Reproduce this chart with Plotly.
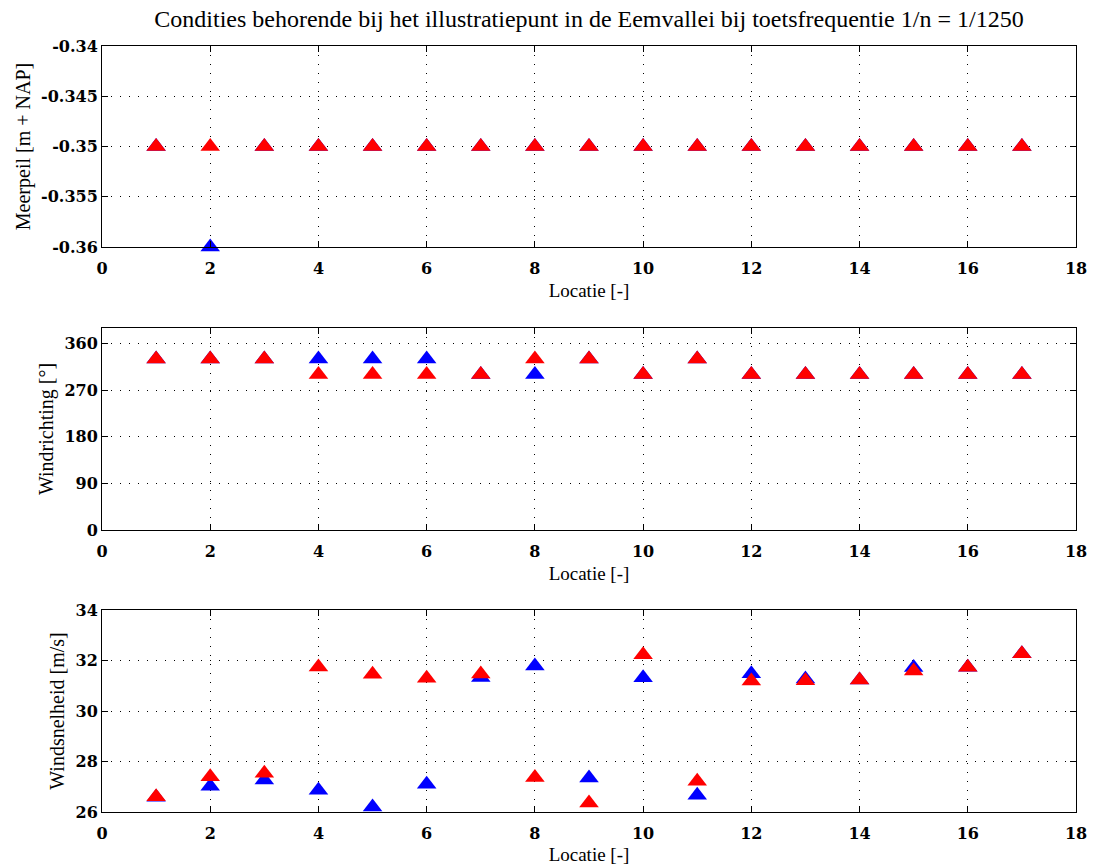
import plotly.graph_objects as go

# ---- data ----
locaties = list(range(1, 18))

meerpeil_blauw = [-0.35, -0.36, -0.35, -0.35, -0.35, -0.35, -0.35, -0.35, -0.35,
                  -0.35, -0.35, -0.35, -0.35, -0.35, -0.35, -0.35, -0.35]
meerpeil_rood = [-0.35] * 17

windrichting_blauw = [330, 330, 330, 330, 330, 330, 300, 300, 330,
                      300, 330, 300, 300, 300, 300, 300, 300]
windrichting_rood = [330, 330, 330, 300, 300, 300, 300, 330, 330,
                     300, 330, 300, 300, 300, 300, 300, 300]

windsnelheid_blauw = [26.58, 27.02, 27.27, 26.86, 26.20, 27.10, 31.33, 31.78, 27.35,
                      31.32, 26.66, 31.48, 31.27, 31.23, 31.72, 31.73, 32.27]
windsnelheid_rood = [26.60, 27.40, 27.53, 31.74, 31.46, 31.30, 31.47, 27.37, 26.36,
                     32.23, 27.22, 31.19, 31.20, 31.23, 31.58, 31.73, 32.27]

x_ticks = [0, 2, 4, 6, 8, 10, 12, 14, 16, 18]
x_ticktext = ["0", "2", "4", "6", "8", "10", "12", "14", "16", "18"]

y1_ticks = [-0.36, -0.355, -0.35, -0.345, -0.34]
y1_ticktext = ["-0.36", "-0.355", "-0.35", "-0.345", "-0.34"]
y2_ticks = [0, 90, 180, 270, 360]
y2_ticktext = ["0", "90", "180", "270", "360"]
y3_ticks = [26, 28, 30, 32, 34]
y3_ticktext = ["26", "28", "30", "32", "34"]

titel = "Condities behorende bij het illustratiepunt in de Eemvallei bij toetsfrequentie 1/n = 1/1250"
x_label = "Locatie [-]"
y_labels = ["Meerpeil [m + NAP]", "Windrichting [°]", "Windsnelheid [m/s]"]

# ---- figure ----
FONT = "Liberation Serif"
TICKFONT = dict(family="DejaVu Serif", size=16, color="black", weight="bold")
fig = go.Figure()

panels = [
    (meerpeil_blauw, meerpeil_rood, "", "y", [-0.36, -0.34], y1_ticks, y1_ticktext),
    (windrichting_blauw, windrichting_rood, "2", "y2", [0, 390], y2_ticks, y2_ticktext),
    (windsnelheid_blauw, windsnelheid_rood, "3", "y3", [26, 34], y3_ticks, y3_ticktext),
]
domains = [[0.7376, 1.0], [0.3681, 0.6319], [0.0, 0.2637]]

for i, (blauw, rood, suf, yref, yr, yt, ytt) in enumerate(panels):
    xref = "x" + suf
    for vals, col in ((blauw, "rgb(0,0,255)"), (rood, "rgb(255,0,0)")):
        fig.add_trace(go.Scatter(
            x=locaties, y=vals, mode="markers", xaxis=xref, yaxis=yref,
            marker=dict(symbol="triangle-up", size=17, color=col,
                        line=dict(width=0)),
            cliponaxis=False, showlegend=False))
    axcommon = dict(showline=True, linecolor="black", linewidth=1, mirror="allticks",
                    ticks="inside", ticklen=6, tickcolor="black",
                    showgrid=True, gridcolor="black", gridwidth=1, griddash="1px,8px",
                    zeroline=False, tickfont=TICKFONT, automargin=False)
    fig.layout["xaxis" + suf] = dict(
        axcommon, range=[0, 18], tickvals=x_ticks, ticktext=x_ticktext,
        anchor=yref, domain=[0, 1], ticklabelstandoff=7,
        title=dict(text=x_label, standoff=6,
                   font=dict(family=FONT, size=19, color="black")))
    fig.layout["yaxis" + suf] = dict(
        axcommon, range=yr, tickvals=yt, ticktext=ytt, anchor=xref, domain=domains[i],
        title=dict(text=y_labels[i], standoff=5,
                   font=dict(family=FONT, size=20, color="black")))

fig.update_layout(
    width=1097, height=865,
    margin=dict(l=102, r=21, t=46, b=53),
    paper_bgcolor="white", plot_bgcolor="white",
    title=dict(text=titel, x=0.5369, xanchor="center", y=0.979, yanchor="middle",
               font=dict(family=FONT, size=24, color="black")),
)

fig.write_html("out.html")
